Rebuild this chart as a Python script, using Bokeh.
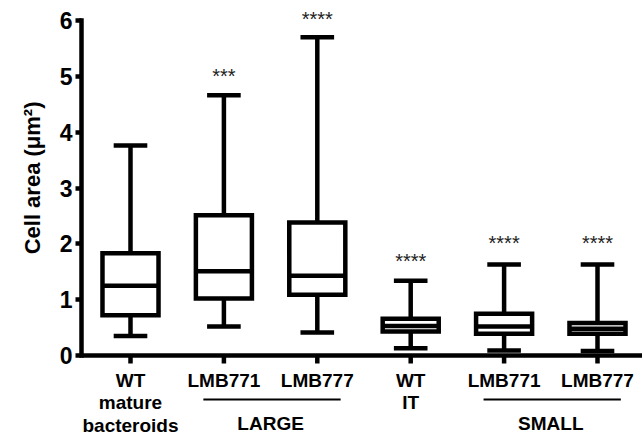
from bokeh.plotting import figure
from bokeh.models import FixedTicker, Span, ColumnDataSource, Title
from bokeh.core.properties import value
from bokeh.embed import file_html
from bokeh.resources import INLINE

# ---- data ----
categories = ["WT\nmature\nbacteroids", "LMB771", "LMB777", "WT\nIT", "LMB771", "LMB777"]
whisker_low = [0.35, 0.52, 0.41, 0.13, 0.09, 0.08]
quartile_1 = [0.72, 1.02, 1.09, 0.43, 0.39, 0.39]
medians = [1.25, 1.51, 1.43, 0.53, 0.52, 0.48]
quartile_3 = [1.83, 2.51, 2.38, 0.66, 0.75, 0.58]
whisker_high = [3.76, 4.66, 5.70, 1.34, 1.63, 1.63]
significance = ["", "***", "****", "****", "****", "****"]
significance_y = [0.0, 5.09, 6.11, 1.79, 2.10, 2.10]
y_ticks = [0, 1, 2, 3, 4, 5, 6]
y_title = "Cell area (μm²)"
group_names = ["LARGE", "SMALL"]
group_first = [2, 5]
group_last = [3, 6]

FONT = "Liberation Sans"
xs = list(range(1, len(categories) + 1))
half_box = 0.30
half_cap = 0.18

# layout: the page has no margin; frame spans the whole figure height
W, H = 642, 436
left_border = 81
unit = 335 / 6.0            # pixels per y unit
y_top = 6 + 20 / unit
y_bottom = -(H - 355) / unit
px = 1 / unit               # one pixel in y data units
xunit = 93.4
x_start = 1 - (130 - left_border) / xunit
x_end = x_start + (W - left_border) / xunit

p = figure(width=W, height=H, output_backend="svg", toolbar_location=None,
           x_range=(x_start, x_end), y_range=(y_bottom, y_top),
           min_border_left=left_border, min_border_bottom=0, min_border_top=0, min_border_right=0)
p.outline_line_color = None
p.xgrid.visible = False
p.ygrid.visible = False
p.xaxis.visible = False
p.background_fill_color = "white"
p.border_fill_color = "white"

src = ColumnDataSource(dict(
    x=xs, left=[x - half_box for x in xs], right=[x + half_box for x in xs],
    cl=[x - half_cap for x in xs], cr=[x + half_cap for x in xs],
    low=whisker_low, q1=quartile_1, med=medians, q3=quartile_3, high=whisker_high))

LW = 4.5
# whiskers
p.segment(x0="x", y0="q3", x1="x", y1="high", source=src, line_color="black", line_width=LW)
p.segment(x0="x", y0="q1", x1="x", y1="low", source=src, line_color="black", line_width=LW)
# caps
p.segment(x0="cl", y0="high", x1="cr", y1="high", source=src, line_color="black", line_width=LW)
p.segment(x0="cl", y0="low", x1="cr", y1="low", source=src, line_color="black", line_width=LW)
# boxes
p.quad(left="left", right="right", bottom="q1", top="q3", source=src,
       fill_color="white", line_color="black", line_width=LW, line_join="miter")
# medians
p.segment(x0="left", y0="med", x1="right", y1="med", source=src, line_color="black", line_width=LW)

# significance stars
sig_src = ColumnDataSource(dict(
    x=[x for x, s in zip(xs, significance) if s],
    y=[y for y, s in zip(significance_y, significance) if s],
    t=[s for s in significance if s]))
p.text(x="x", y="y", text="t", source=sig_src, text_align="center", text_baseline="middle",
       y_offset=5, text_font=value(FONT), text_font_size="20px", text_color="#222222")

# y axis
ya = p.yaxis[0]
ya.ticker = FixedTicker(ticks=y_ticks)
ya.bounds = (0, 6)
ya.axis_line_width = LW
ya.axis_line_cap = "square"
ya.major_tick_line_width = LW
ya.major_tick_out = 6
ya.major_tick_in = 0
ya.minor_tick_line_color = None
ya.major_label_text_font = FONT
ya.major_label_text_font_style = "bold"
ya.major_label_text_font_size = "23px"
ya.major_label_text_color = "black"
ya.major_label_standoff = 3

# y axis title, placed along the 0..6 span of the axis (frame extends below 0)
p.add_layout(Title(text=y_title, align="right", offset=101, standoff=23,
                   text_font=FONT, text_font_style="bold", text_font_size="22px",
                   text_color="black"), "left")

# x axis: base line, ticks and category labels
p.add_layout(Span(location=0, dimension="width", line_color="black", line_width=LW))
p.segment(x0="x", y0=0, x1="x", y1=-8 * px, source=src, line_color="black", line_width=LW)
lab_src = ColumnDataSource(dict(x=xs, t=categories))
p.text(x="x", y=-14 * px, text="t", source=lab_src, text_align="center", text_baseline="top",
       text_font=value(FONT), text_font_style="bold", text_font_size="19px",
       text_line_height=1.08, text_color="black")

# group labels with underline
g_src = ColumnDataSource(dict(
    x0=[a - 0.22 for a in group_first], x1=[b + 0.25 for b in group_last],
    xm=[(a + b) / 2 for a, b in zip(group_first, group_last)], t=group_names))
p.segment(x0="x0", y0=-44 * px, x1="x1", y1=-44 * px, source=g_src,
          line_color="black", line_width=2)
p.text(x="xm", y=-68 * px, text="t", source=g_src, text_align="center", text_baseline="middle",
       text_font=value(FONT), text_font_style="bold", text_font_size="19px", text_color="black")

open("out.html", "w").write(file_html(p, INLINE))
